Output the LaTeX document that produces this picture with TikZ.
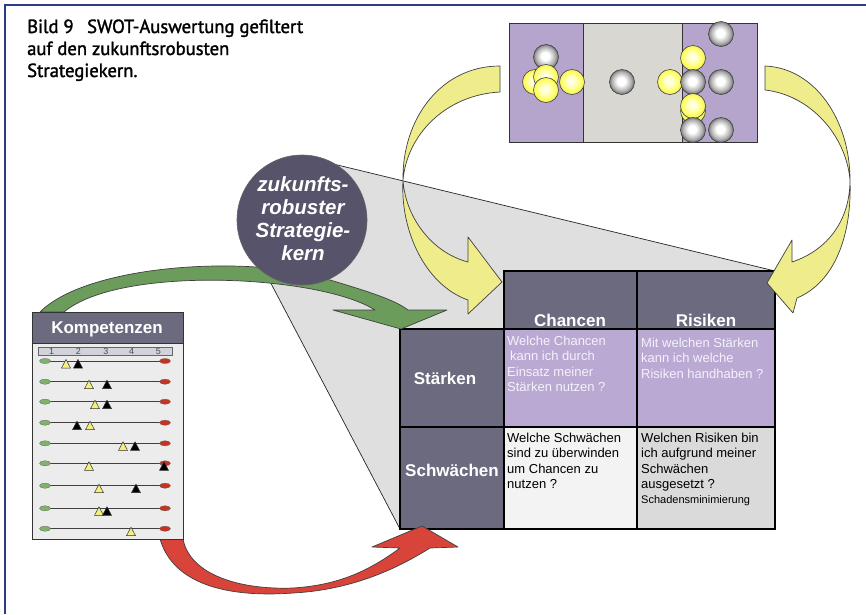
\documentclass[tikz,border=0pt]{standalone}
\usepackage{fontspec}
\setmainfont{Liberation Sans}
\newfontfamily\titlefont[FakeBold=1.6,FakeStretch=0.98]{PT Sans}
\definecolor{frameblue}{HTML}{2E3C84}
\definecolor{slate}{HTML}{6B6A7E}
\definecolor{circlefill}{HTML}{57536A}
\definecolor{lav}{HTML}{B9A9D3}
\definecolor{boxlav}{HTML}{B5A5CD}
\definecolor{boxgray}{HTML}{D9D7D2}
\definecolor{projgray}{HTML}{DFDFDF}
\definecolor{cellwhite}{HTML}{F3F3F3}
\definecolor{cellgray}{HTML}{DADADA}
\definecolor{arrowyellow}{HTML}{EFEC8C}
\definecolor{arrowgreen}{HTML}{6C9C5C}
\definecolor{arrowred}{HTML}{D8443A}
\definecolor{kbody}{HTML}{ECECEC}
\definecolor{barfill}{HTML}{D2D2DA}
\definecolor{ovalgreen}{HTML}{7DB36A}
\definecolor{ovalred}{HTML}{C83222}
\definecolor{triyellow}{HTML}{F4F07A}
\definecolor{lighttext}{HTML}{F4F2FA}
\definecolor{ballrim}{HTML}{F2F060}
\pgfdeclareradialshading{greyball}{\pgfpoint{-2bp}{2bp}}{color(0bp)=(white); color(8bp)=(white); color(19bp)=(black!30); color(25bp)=(black!55); color(50bp)=(black!55)}
\pgfdeclareradialshading{yelball}{\pgfpoint{-2bp}{2bp}}{color(0bp)=(yellow!4!white); color(9bp)=(yellow!22!white); color(19bp)=(yellow!60!white); color(25bp)=(ballrim); color(50bp)=(ballrim)}
\newcommand\ktri[3]{\filldraw[fill=#3, draw=black!80, line width=0.5pt] (#1-4.5,#2+7) -- (#1,#2-1.5) -- (#1+4.5,#2+7) -- cycle;}
\begin{document}
\begin{tikzpicture}[x=1pt,y=-1pt,
  ribbon/.style={draw=black!75, line width=0.7pt, line join=round},
  cellline/.style={draw=black, line width=1.4pt},
  hdr/.style={font=\fontsize{17}{20}\selectfont\bfseries, text=white, inner sep=0pt},
  celltext/.style={font=\fontsize{13}{15.3}\selectfont, align=left, anchor=north west, inner sep=0pt},
  gball/.style={shading=greyball, draw=black!75, line width=0.6pt},
  yball/.style={shading=yelball, draw=black!75, line width=0.6pt},
  titletext/.style={anchor=base west, inner sep=0pt, text=black, font=\titlefont\fontsize{19}{22}\selectfont},
  numtext/.style={font=\fontsize{9}{9}\selectfont, text=black!70, inner sep=0pt}]
\useasboundingbox (0,0) rectangle (866,614);
\fill[white] (0,0) rectangle (866,614);
\draw[frameblue, line width=2pt] (5,614) -- (5,5) -- (866,5);

% projection
\fill[projgray] (330,163.2) -- (775,271) -- (775,529) -- (400,529) -- (255,253) -- cycle;
\draw[black!85, line width=0.7pt] (330,163.2) -- (775,271);
\draw[black!85, line width=0.7pt] (255,253) -- (400,529);

% top box
\fill[boxlav] (509,23) rectangle (583,142);
\fill[boxgray] (583,23) rectangle (682,142);
\fill[boxlav] (682,23) rectangle (757,142);
\draw[black!80, line width=1pt] (509,23) rectangle (757,142);
\draw[black!80, line width=0.8pt] (583,23) -- (583,142) (682,23) -- (682,142);
\shadedraw[gball] (546,57) circle[radius=12.5pt];
\shadedraw[yball] (535,82) circle[radius=12.5pt];
\shadedraw[yball] (546,77) circle[radius=12.5pt];
\shadedraw[yball] (572,82) circle[radius=12.5pt];
\shadedraw[yball] (546,90) circle[radius=12.5pt];
\shadedraw[gball] (622,82) circle[radius=12.5pt];
\shadedraw[gball] (721,34) circle[radius=12.5pt];
\shadedraw[yball] (693,58) circle[radius=12.5pt];
\shadedraw[yball] (670,82) circle[radius=12.5pt];
\shadedraw[gball] (693,82) circle[radius=12.5pt];
\shadedraw[gball] (721,82) circle[radius=12.5pt];
\shadedraw[yball] (693,111) circle[radius=12.5pt];
\shadedraw[yball] (693,106) circle[radius=12.5pt];
\shadedraw[gball] (693,130) circle[radius=12.5pt];
\shadedraw[gball] (721,130) circle[radius=12.5pt];

% matrix
\fill[slate] (504,271) rectangle (775,329);
\fill[slate] (400,329) rectangle (504,529);
\fill[lav] (504,329) rectangle (775,427);
\fill[cellwhite] (504,427) rectangle (637,529);
\fill[cellgray] (637,427) rectangle (775,529);
\draw[cellline] (504,271) rectangle (775,529);
\draw[cellline] (400,329) rectangle (504,529);
\draw[cellline] (637,271) -- (637,529);
\draw[cellline] (504,329) -- (775,329);
\draw[cellline] (400,427) -- (775,427);
\node[hdr, anchor=base] (chancen) at (570,326) {Chancen};
\node[hdr, anchor=base] (risiken) at (706,326) {Risiken};
\node[hdr] (staerken) at (445,378) {Stärken};
\node[hdr] (schwaechen) at (452,470) {Schwächen};
\node[celltext, text=lighttext] (sc) at (507,336) {Welche Chancen\\\hspace{3pt}kann ich durch\\Einsatz meiner\\Stärken nutzen ?};
\node[celltext, text=lighttext] (sr) at (641,338) {Mit welchen Stärken\\kann ich welche\\Risiken handhaben ?};
\node[celltext, text=black] (wc) at (507,433) {Welche Schwächen\\sind zu überwinden\\um Chancen zu\\nutzen ?};
\node[celltext, text=black] (wr) at (641,433) {Welchen Risiken bin\\ich aufgrund meiner\\Schwächen\\ausgesetzt ?\\{\fontsize{11}{15.3}\selectfont Schadensminimierung}};

% yellow arrows
\filldraw[ribbon, fill=arrowyellow] (500,66) .. controls (440,66) and (402,120) .. (403,180)
  .. controls (405,215) and (430,252) .. (468,262) -- (468,237) -- (502,282) -- (468,314) -- (468,300)
  .. controls (425,285) and (400,230) .. (403,180)
  .. controls (407,135) and (445,95) .. (500,92) -- cycle;
\filldraw[ribbon, fill=arrowyellow] (765,66) .. controls (815,68) and (850,120) .. (850,180)
  .. controls (850,220) and (828,250) .. (792,262) -- (792,240) -- (767,283) -- (793,313) -- (797,298)
  .. controls (835,282) and (852,235) .. (850,180)
  .. controls (846,135) and (810,95) .. (765,90) -- cycle;

% green arrow
\filldraw[ribbon, fill=arrowgreen] (40,312) .. controls (90,262) and (260,255) .. (330,280)
  .. controls (370,292) and (395,300) .. (408,310) -- (447,310) -- (401,329) -- (333,310) -- (375,310)
  .. controls (320,275) and (120,265) .. (64,312) -- cycle;

% circle
\node[circle, fill=circlefill, draw=black!60, line width=0.6pt, minimum size=130pt, inner sep=0pt] (kern) at (302,220) {};
\node[font=\fontsize{20.5}{23}\selectfont\bfseries\itshape, text=white, align=center, inner sep=0pt] (kerntext) at (303,219) {zukunfts-\\robuster\\Strategie-\\kern};

% red arrow
\filldraw[ribbon, fill=arrowred] (160,539) .. controls (175,590) and (240,597) .. (293,593)
  .. controls (350,590) and (395,570) .. (430,548) -- (458,547) -- (422,526) -- (372,547) -- (400,548)
  .. controls (370,570) and (340,585) .. (293,588)
  .. controls (240,590) and (190,575) .. (183,539) -- cycle;

% Kompetenzen box
\fill[kbody] (32,312) rectangle (183,539);
\fill[slate] (32,312) rectangle (183,343);
\draw[black!80, line width=1pt] (32,312) rectangle (183,539);
\draw[black!80, line width=0.6pt] (32,343) -- (183,343);
\node[hdr] (komp) at (107,329) {Kompetenzen};
\filldraw[fill=barfill, draw=black!60, line width=0.5pt] (38,347) rectangle (172,355);
\node[numtext] (n1) at (51.7,351) {1};
\node[numtext] (n2) at (78.3,351) {2};
\node[numtext] (n3) at (106,351) {3};
\node[numtext] (n4) at (131.7,351) {4};
\node[numtext] (n5) at (158.3,351) {5};
\foreach \yy in {361,381.7,401.7,422.7,443.3,463.3,485.7,508.3,528.7}{
  \draw[black!75, line width=0.7pt] (45,\yy) -- (165,\yy);
  \filldraw[fill=ovalgreen, draw=black!60, line width=0.3pt] (45,\yy) ellipse[x radius=5.5pt, y radius=2.6pt];
  \filldraw[fill=ovalred, draw=black!60, line width=0.3pt] (165,\yy) ellipse[x radius=5.5pt, y radius=2.6pt];
}
\ktri{66}{361}{triyellow}\ktri{78}{361}{black}
\ktri{89}{381.7}{triyellow}\ktri{107}{381.7}{black}
\ktri{95}{401.7}{triyellow}\ktri{107}{401.7}{black}
\ktri{77}{422.7}{black}\ktri{90}{422.7}{triyellow}
\ktri{123}{443.3}{triyellow}\ktri{135}{443.3}{black}
\ktri{89}{463.3}{triyellow}\ktri{164}{463.3}{black}
\ktri{99}{485.7}{triyellow}\ktri{136}{485.7}{black}
\ktri{99}{508.3}{triyellow}\ktri{107}{508.3}{black}
\ktri{131}{528.7}{triyellow}

% title
\node[titletext] (t1) at (27,33) {Bild 9\hspace{0.45em} SWOT-Auswertung gefiltert};
\node[titletext] (t2) at (27,55) {auf den zukunftsrobusten};
\node[titletext] (t3) at (27,77) {Strategiekern.};
\end{tikzpicture}
\end{document}
